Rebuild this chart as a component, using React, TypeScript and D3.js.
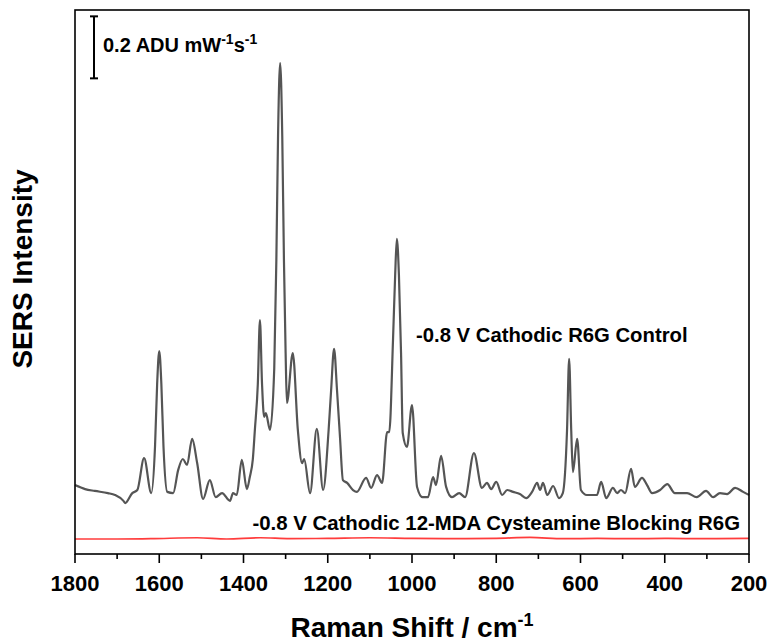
import React from "react";
import * as d3 from "d3";

// Raman shift (cm^-1) for the R6G control spectrum
const controlShift = [
  1800, 1776, 1753, 1722, 1705, 1685, 1681, 1664, 1652, 1636, 1619, 1610, 1605, 1600, 1595, 1590,
  1581, 1567, 1555, 1544, 1534, 1522, 1510, 1496, 1480, 1466, 1451, 1432, 1425, 1416, 1404, 1392,
  1385, 1378, 1373, 1366, 1361, 1356, 1351, 1347, 1337, 1327, 1322, 1318, 1313, 1308, 1304, 1300,
  1297, 1283, 1271, 1261, 1256, 1242, 1226, 1211, 1198, 1192, 1185, 1178, 1171, 1164, 1154, 1140,
  1131, 1109, 1097, 1083, 1071, 1059, 1054, 1045, 1040, 1036, 1031, 1026, 1022, 1012, 1000, 988,
  975, 962, 950, 943, 931, 919, 905, 888, 874, 853, 834, 822, 812, 800, 786, 774, 760, 744, 729,
  715, 703, 696, 689, 679, 665, 651, 642, 632, 627, 622, 618, 608, 599, 585, 570, 561, 551, 539,
  523, 513, 504, 494, 480, 471, 454, 442, 430, 411, 394, 376, 347, 324, 302, 285, 269, 252, 233,
  214, 200,
];
// SERS intensity (ADU mW^-1 s^-1) for the R6G control spectrum
const controlIntensity = [
  0.174, 0.161, 0.155, 0.148, 0.142, 0.123, 0.116, 0.148, 0.158, 0.261, 0.148, 0.3, 0.5, 0.606, 0.5, 0.3,
  0.152, 0.148, 0.223, 0.258, 0.239, 0.323, 0.245, 0.129, 0.19, 0.135, 0.148, 0.123, 0.148, 0.142, 0.255, 0.161,
  0.2, 0.255, 0.352, 0.5, 0.706, 0.5, 0.394, 0.406, 0.352, 0.55, 0.9, 1.3, 1.535, 1.3, 0.9, 0.6,
  0.439, 0.6, 0.352, 0.245, 0.258, 0.148, 0.355, 0.158, 0.35, 0.48, 0.613, 0.48, 0.33, 0.19, 0.181, 0.158,
  0.152, 0.197, 0.165, 0.206, 0.181, 0.345, 0.345, 0.645, 0.85, 0.968, 0.85, 0.6, 0.342, 0.297, 0.432, 0.168,
  0.135, 0.135, 0.2, 0.174, 0.268, 0.168, 0.135, 0.148, 0.135, 0.277, 0.165, 0.181, 0.161, 0.184, 0.142, 0.158, 0.152, 0.145, 0.132,
  0.152, 0.181, 0.158, 0.181, 0.142, 0.171, 0.132, 0.148, 0.35, 0.581, 0.35, 0.216, 0.323, 0.158, 0.142, 0.142, 0.142, 0.184, 0.132,
  0.165, 0.148, 0.158, 0.148, 0.226, 0.168, 0.197, 0.174, 0.148, 0.158, 0.177, 0.148, 0.148, 0.135, 0.155, 0.135, 0.148, 0.145, 0.165,
  0.152, 0.142,
];

// Raman shift (cm^-1) for the blocked spectrum
const blockedShift = [1800, 1700, 1620, 1510, 1440, 1360, 1290, 1200, 1100, 1000, 900, 800, 720, 640, 560, 480, 400, 300, 200];
// SERS intensity for the blocked spectrum
const blockedIntensity = [0, 0, 0.001, 0.004, 0.0, 0.004, 0.001, 0.002, 0.004, 0.002, 0.001, 0.002, 0.005, 0.001, 0.002, 0.001, 0.002, 0.001, 0.002];

const xTicks = [1800, 1600, 1400, 1200, 1000, 800, 600, 400, 200];
const xMinorTicks = [1700, 1500, 1300, 1100, 900, 700, 500, 300];

const controlLabel = "-0.8 V Cathodic R6G Control";
const blockedLabel = "-0.8 V Cathodic 12-MDA Cysteamine Blocking R6G";
const scaleBarValue = 0.2;

const W = 770;
const H = 642;
const left = 75;
const right = 749;
const top = 10;
const bottom = 554;
const FONT = "'Liberation Sans', Arial, sans-serif";

export default function App() {
  const x = d3.scaleLinear().domain([1800, 200]).range([left, right]);
  const y = d3.scaleLinear().domain([-0.0484, 1.7065]).range([bottom, top]);

  const line = d3
    .line<[number, number]>()
    .x((d) => x(d[0]))
    .y((d) => y(d[1]))
    .curve(d3.curveMonotoneX);

  const control: [number, number][] = controlShift.map((s, i) => [s, controlIntensity[i]]).reverse() as [number, number][];
  const blocked: [number, number][] = blockedShift.map((s, i) => [s, blockedIntensity[i]]).reverse() as [number, number][];

  const barTop = 1.686;
  const barBot = barTop - scaleBarValue;
  const barX = 94;

  return (
    <svg width={W} height={H} style={{ position: "absolute", left: 0, top: 0, background: "#fff" }} fontFamily={FONT}>
      <rect x={0} y={0} width={W} height={H} fill="#fff" />
      {/* spectra */}
      <path d={line(control) || ""} fill="none" stroke="#555555" strokeWidth={2.2} strokeLinejoin="round" />
      <path d={line(blocked) || ""} fill="none" stroke="#ff3c3c" strokeWidth={1.7} />

      {/* frame */}
      <rect x={left} y={top} width={right - left} height={bottom - top} fill="none" stroke="#000" strokeWidth={1.6} />

      {/* x ticks */}
      {xTicks.map((t) => (
        <g key={t}>
          <line x1={x(t)} x2={x(t)} y1={bottom} y2={bottom + 9} stroke="#000" strokeWidth={1.6} />
          <text x={x(t)} y={591} textAnchor="middle" fontSize={22} fontWeight="bold" fill="#000">
            {t}
          </text>
        </g>
      ))}
      {xMinorTicks.map((t) => (
        <line key={t} x1={x(t)} x2={x(t)} y1={bottom} y2={bottom + 5} stroke="#000" strokeWidth={1.6} />
      ))}

      {/* axis titles */}
      <text x={(left + right) / 2} y={637} textAnchor="middle" fontSize={28} fontWeight="bold" fill="#000">
        Raman Shift / cm
        <tspan fontSize={18} dy={-11}>-1</tspan>
      </text>
      <text
        transform={`translate(32, ${269}) rotate(-90)`}
        textAnchor="middle"
        fontSize={28}
        fontWeight="bold"
        fill="#000"
      >
        SERS Intensity
      </text>

      {/* scale bar */}
      <line x1={barX} x2={barX} y1={y(barTop)} y2={y(barBot)} stroke="#000" strokeWidth={2} />
      <line x1={barX - 4} x2={barX + 4} y1={y(barTop)} y2={y(barTop)} stroke="#000" strokeWidth={2} />
      <line x1={barX - 4} x2={barX + 4} y1={y(barBot)} y2={y(barBot)} stroke="#000" strokeWidth={2} />
      <text x={103} y={52} fontSize={20} fontWeight="bold" fill="#000">
        {scaleBarValue} ADU mW
        <tspan fontSize={14} dy={-8}>-1</tspan>
        <tspan dy={8}>s</tspan>
        <tspan fontSize={14} dy={-8}>-1</tspan>
      </text>

      {/* series labels */}
      <text x={416} y={342} fontSize={20.3} fontWeight="bold" fill="#000">
        {controlLabel}
      </text>
      <text x={740} y={530} textAnchor="end" fontSize={20.4} fontWeight="bold" fill="#000">
        {blockedLabel}
      </text>
    </svg>
  );
}
